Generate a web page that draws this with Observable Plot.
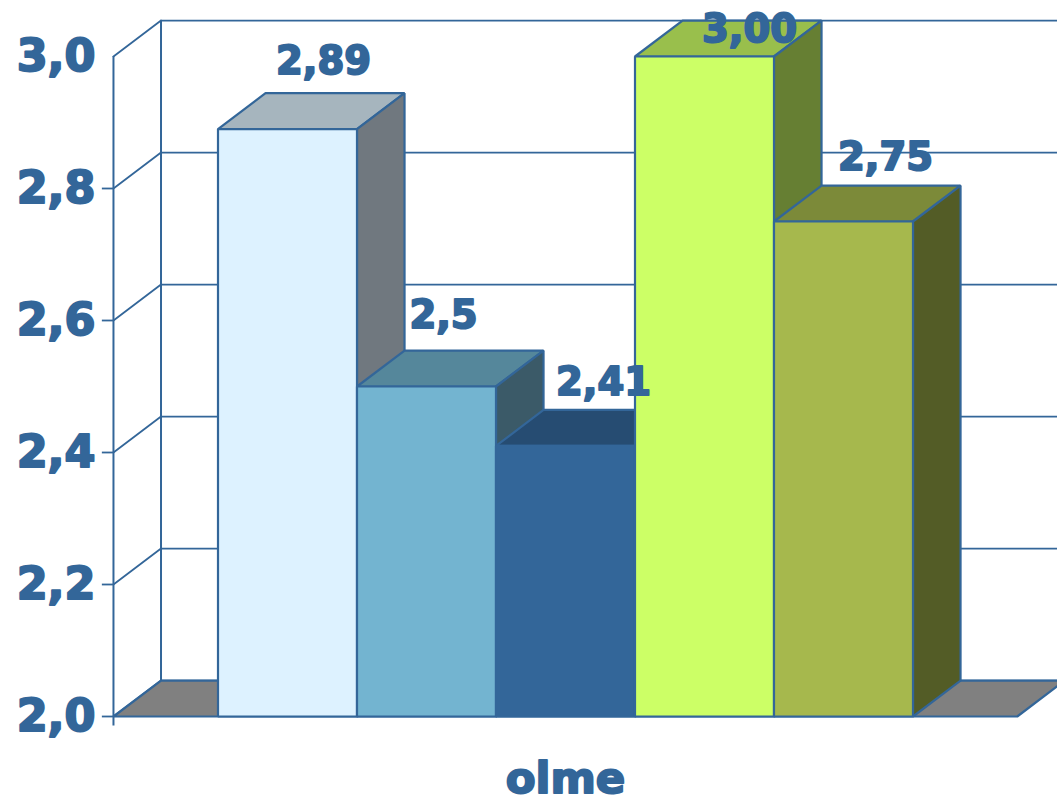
<!DOCTYPE html>
<html>
<head>
<meta charset="utf-8">
<title>olme</title>
<style>
html,body{margin:0;padding:0;background:#fff;overflow:hidden;width:1057px;height:798px}
svg{display:block}
</style>
<script src="https://cdn.jsdelivr.net/npm/d3@7"></script>
<script src="https://cdn.jsdelivr.net/npm/@observablehq/plot@0.6"></script>
</head>
<body>
<div id="chart"></div>
<script>
const category = "olme";
const values = [2.89, 2.5, 2.41, 3.0, 2.75];
const valueLabels = ["2,89", "2,5", "2,41", "3,00", "2,75"];
const yTicks = [2.0, 2.2, 2.4, 2.6, 2.8, 3.0];
const yTickLabels = ["2,0", "2,2", "2,4", "2,6", "2,8", "3,0"];

const frontColors = ["#DDF2FF", "#73B4D0", "#336699", "#CCFF66", "#A6B84D"];
const topColors   = ["#A6B5BE", "#55879B", "#264C72", "#99BF4C", "#7C8A39"];
const sideColors  = ["#70787F", "#3B5A68", "#1F3F5F", "#667F33", "#535C26"];
const labelDx = [36, 17, 38, 45, 42];
const labelDy = [-31, -35, -27, 9, -28];

const ink = "#336699";
const floorColor = "#808080";
// Projection of the 3D box, in scale units
const depthX = 0.342, depthY = 0.0545;
const wallLeft = -0.752, floorRight = 5.75, base = 2;

const poly = (pts, fill) => Plot.line(pts, {
  x: d => d[0], y: d => d[1], fill, stroke: ink, strokeWidth: 2.2,
  curve: "linear-closed", strokeLinejoin: "miter"
});

const marks = [];
// back wall and side wall frame
marks.push(Plot.ruleY(yTicks, {
  y: d => d + depthY, x1: wallLeft + depthX, x2: floorRight + depthX,
  stroke: ink, strokeWidth: 1.8
}));
marks.push(Plot.ruleX([wallLeft + depthX], {
  y1: base + depthY, y2: yTicks[yTicks.length - 1] + depthY, stroke: ink, strokeWidth: 2
}));
yTicks.forEach(t => {
  marks.push(Plot.line([[wallLeft, t], [wallLeft + depthX, t + depthY]], {
    x: d => d[0], y: d => d[1], stroke: ink, strokeWidth: 1.8
  }));
});
// floor
marks.push(poly([
  [wallLeft, base], [wallLeft + depthX, base + depthY],
  [floorRight + depthX, base + depthY], [floorRight, base]
], floorColor));
// axis line and ticks
marks.push(Plot.ruleX([wallLeft], {
  y1: base - 0.0145, y2: yTicks[yTicks.length - 1], stroke: ink, strokeWidth: 2
}));
marks.push(Plot.ruleY(yTicks.slice(0, -1), {
  y: d => d, x1: wallLeft - 0.08, x2: wallLeft, stroke: ink, strokeWidth: 1.8
}));
// bars, painted left to right
values.forEach((v, i) => {
  marks.push(poly([[i, v], [i + depthX, v + depthY], [i + 1 + depthX, v + depthY], [i + 1, v]], topColors[i]));
  marks.push(poly([[i + 1, base], [i + 1 + depthX, base + depthY], [i + 1 + depthX, v + depthY], [i + 1, v]], sideColors[i]));
  marks.push(poly([[i, base], [i + 1, base], [i + 1, v], [i, v]], frontColors[i]));
});
// labels
const labelFont = {
  fontFamily: "DejaVu Sans", fontWeight: "bold", fill: ink,
  stroke: ink, strokeWidth: 2, strokeLinejoin: "round", lineAnchor: "middle"
};
marks.push(Plot.text(yTicks, {
  ...labelFont, x: () => wallLeft, y: d => d, text: (d, i) => yTickLabels[i],
  textAnchor: "end", dx: -18, fontSize: 44.5
}));
values.forEach((v, i) => {
  marks.push(Plot.text([v], {
    ...labelFont, x: () => i + 0.5, y: () => v + depthY, text: () => valueLabels[i],
    textAnchor: "middle", dx: labelDx[i], dy: labelDy[i], fontSize: 38.5
  }));
});
marks.push(Plot.text([category], {
  ...labelFont, x: () => values.length / 2, y: () => 1.9045, text: d => d,
  textAnchor: "middle", fontSize: 43.5
}));

const chart = Plot.plot({
  width: 1057, height: 798,
  marginTop: 56, marginBottom: 82, marginLeft: 217.5, marginRight: 144.5,
  x: {domain: [0, values.length], axis: null},
  y: {domain: [2, 3], axis: null},
  marks
});
document.getElementById("chart").append(chart);
</script>
</body>
</html>
